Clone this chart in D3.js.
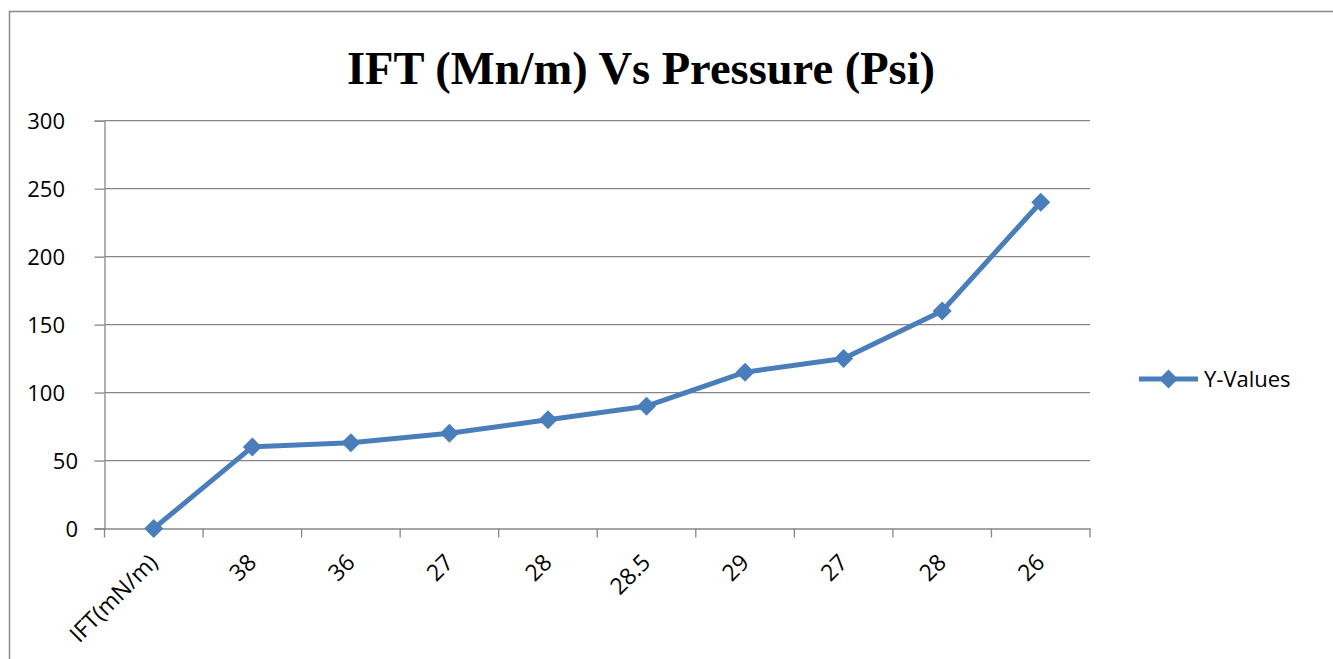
<!DOCTYPE html>
<html>
<head>
<meta charset="utf-8">
<script src="https://cdn.jsdelivr.net/npm/d3@7"></script>
<style>
  html, body { margin: 0; padding: 0; background: #fff; }
  svg { display: block; }
</style>
</head>
<body>
<svg id="chart" width="1333" height="659"></svg>
<script>
const categories = ["IFT(mN/m)", "38", "36", "27", "28", "28.5", "29", "27", "28", "26"];
const values = [0, 60, 63, 70, 80, 90, 115, 125, 160, 240];
const yTicks = [0, 50, 100, 150, 200, 250, 300];
const seriesName = "Y-Values";
const title = "IFT (Mn/m) Vs Pressure (Psi)";

(function () {
const svg = d3.select("#chart");
const W = 1333, H = 659;
const pLeft = 104.5, pRight = 1090, pTop = 120.7, pBottom = 528.5;
const blue = "#4A7EBB";
const gray = "#878787";
const font = "'Open Sans', sans-serif";
const fs = 22;

svg.append("rect").attr("x", 0).attr("y", 0).attr("width", W).attr("height", H).attr("fill", "#fff");
svg.append("rect").attr("x", 9.5).attr("y", 11.5).attr("width", W + 20).attr("height", H + 20)
  .attr("fill", "none").attr("stroke", "#8a8a8a").attr("stroke-width", 1.5);

svg.append("text").attr("x", 641).attr("y", 84).attr("text-anchor", "middle")
  .attr("font-family", "'Liberation Serif', 'Times New Roman', serif").attr("font-weight", "bold")
  .attr("font-size", 46.5).attr("fill", "#000").text(title);

const x = d3.scaleBand().domain(d3.range(categories.length)).range([pLeft, pRight]).padding(0);
const y = d3.scaleLinear().domain([0, 300]).range([pBottom, pTop]);

svg.append("g").selectAll("line").data(yTicks.filter(d => d > 0)).join("line")
  .attr("x1", pLeft).attr("x2", pRight).attr("y1", d => y(d)).attr("y2", d => y(d))
  .attr("stroke", gray).attr("stroke-width", 1.3);

const yAxis = svg.append("g").attr("transform", `translate(${pLeft},0)`)
  .call(d3.axisLeft(y).tickValues(yTicks).tickSize(10).tickPadding(0).tickFormat(d3.format("d")));
yAxis.select(".domain").attr("stroke", gray).attr("stroke-width", 1.3);
yAxis.selectAll(".tick line").attr("stroke", gray).attr("stroke-width", 1.3);
yAxis.selectAll(".tick text").attr("font-family", font).attr("font-size", fs).attr("fill", "#000")
  .attr("x", d => String(d).length > 2 ? -39.5 : -26.5).attr("dy", "0.36em");

const xAxis = svg.append("g").attr("transform", `translate(0,${pBottom})`)
  .call(d3.axisBottom(x).tickValues([]).tickSizeOuter(0));
xAxis.select(".domain").attr("stroke", gray).attr("stroke-width", 1.3);
const bounds = d3.range(categories.length + 1).map(i => i < categories.length ? x(i) : x(categories.length - 1) + x.bandwidth());
svg.append("g").selectAll("line").data(bounds).join("line")
  .attr("x1", d => d).attr("x2", d => d).attr("y1", pBottom).attr("y2", pBottom + 9)
  .attr("stroke", gray).attr("stroke-width", 1.3);

svg.append("g").selectAll("text").data(categories).join("text")
  .attr("transform", (d, i) => `translate(${x(i) + x.bandwidth() / 2 - 1},${pBottom + 29}) rotate(-45)`)
  .attr("text-anchor", "end").attr("dominant-baseline", "central")
  .attr("font-family", font).attr("font-size", 23).attr("fill", "#000").text(d => d);

const cx = i => x(i) + x.bandwidth() / 2;
const line = d3.line().x((d, i) => cx(i)).y(d => y(d));
svg.append("path").datum(values).attr("d", line).attr("fill", "none")
  .attr("stroke", blue).attr("stroke-width", 5).attr("stroke-linejoin", "round");

const dia = r => `M0,${-r}L${r},0L0,${r}L${-r},0Z`;
svg.append("g").selectAll("path").data(values).join("path")
  .attr("transform", (d, i) => `translate(${cx(i)},${y(d)})`)
  .attr("d", dia(9.5)).attr("fill", blue);

const lg = svg.append("g").attr("transform", "translate(1139,379)");
lg.append("line").attr("x1", 0).attr("x2", 59).attr("stroke", blue).attr("stroke-width", 5);
lg.append("path").attr("transform", "translate(29.5,0)").attr("d", dia(9.5)).attr("fill", blue);
lg.append("text").attr("x", 65).attr("dy", "0.36em").attr("font-family", font).attr("font-size", fs)
  .attr("fill", "#000").text(seriesName);
})();
</script>
</body>
</html>
